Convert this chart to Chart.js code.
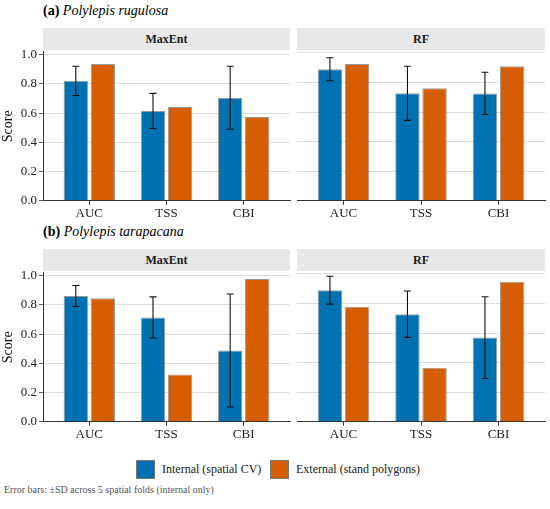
<!DOCTYPE html>
<html>
<head>
<meta charset="utf-8">
<script src="https://cdn.jsdelivr.net/npm/chart.js@4.4.1/dist/chart.umd.min.js"></script>
<style>
  body { margin: 0; background: #fff; font-family: "Times New Roman", "Liberation Serif", "DejaVu Serif", serif; }
  #fig { position: relative; width: 550px; height: 509px; overflow: hidden; }
  .panel { position: absolute; }
  .title { position: absolute; left: 43px; font-size: 14px; line-height: 16px; color: #000; }
  .title i { font-style: italic; }
  .strip { position: absolute; height: 22px; line-height: 22px; background: #e8e8e8; text-align: center;
           font-weight: bold; font-size: 12px; color: #1a1a1a; }
  .legend { position: absolute; top: 460px; left: 136px; height: 19px; font-size: 12px; color: #1a1a1a; }
  .key { position: absolute; top: 0; width: 17px; height: 17px; border: 1px solid #777; }
  .lab { position: absolute; top: 0; line-height: 19px; white-space: nowrap; }
  .caption { position: absolute; left: 4px; top: 484px; font-size: 10px; color: #555; white-space: nowrap; }
</style>
</head>
<body>
<div id="fig">
  <div class="title" style="top:3px"><b>(a)</b> <i>Polylepis rugulosa</i></div>
  <div class="strip" style="top:28px;left:43px;width:247px">MaxEnt</div>
  <div class="strip" style="top:28px;left:297px;width:248px">RF</div>
  <div class="panel" style="left:0;top:42px;width:292px;height:180px"><canvas id="a1"></canvas></div>
  <div class="panel" style="left:295px;top:42px;width:255px;height:180px"><canvas id="a2"></canvas></div>

  <div class="title" style="top:224px"><b>(b)</b> <i>Polylepis tarapacana</i></div>
  <div class="strip" style="top:249px;left:43px;width:247px">MaxEnt</div>
  <div class="strip" style="top:249px;left:297px;width:248px">RF</div>
  <div class="panel" style="left:0;top:263px;width:292px;height:180px"><canvas id="b1"></canvas></div>
  <div class="panel" style="left:295px;top:263px;width:255px;height:180px"><canvas id="b2"></canvas></div>

  <div class="legend">
    <div class="key" style="left:0;background:#0072B2"></div>
    <div class="lab" style="left:26px">Internal (spatial CV)</div>
    <div class="key" style="left:134px;background:#D55E00"></div>
    <div class="lab" style="left:160px">External (stand polygons)</div>
  </div>
  <div class="caption">Error bars: ±SD across 5 spatial folds (internal only)</div>
</div>
<script>
const metrics = ["AUC", "TSS", "CBI"];
const yTicks = [0, 0.2, 0.4, 0.6, 0.8, 1.0];

// (a) Polylepis rugulosa
const ruguMaxentInt = [0.821, 0.615, 0.705];
const ruguMaxentSd = [0.100, 0.120, 0.216];
const ruguMaxentExt = [0.937, 0.642, 0.574];
const ruguRfInt = [0.890, 0.727, 0.726];
const ruguRfSd = [0.078, 0.183, 0.143];
const ruguRfExt = [0.926, 0.761, 0.910];

// (b) Polylepis tarapacana
const taraMaxentInt = [0.861, 0.714, 0.488];
const taraMaxentSd = [0.072, 0.141, 0.387];
const taraMaxentExt = [0.845, 0.324, 0.978];
const taraRfInt = [0.890, 0.728, 0.570];
const taraRfSd = [0.094, 0.157, 0.276];
const taraRfExt = [0.778, 0.366, 0.948];

const serif = "'Times New Roman', 'Liberation Serif', 'DejaVu Serif', serif";
const axisCol = "#333";

const errorBars = {
  id: "errorBars",
  afterDatasetsDraw(chart) {
    const ds = chart.data.datasets[0];
    const meta = chart.getDatasetMeta(0);
    const y = chart.scales.y;
    const ctx = chart.ctx;
    ctx.save();
    ctx.strokeStyle = "#111";
    ctx.lineWidth = 1.1;
    meta.data.forEach((bar, i) => {
      const v = ds.data[i].y;
      const top = y.getPixelForValue(v + ds.sd[i]);
      const bot = y.getPixelForValue(v - ds.sd[i]);
      ctx.beginPath();
      ctx.moveTo(bar.x, top);
      ctx.lineTo(bar.x, bot);
      ctx.moveTo(bar.x - 3.5, top);
      ctx.lineTo(bar.x + 3.5, top);
      ctx.moveTo(bar.x - 3.5, bot);
      ctx.lineTo(bar.x + 3.5, bot);
      ctx.stroke();
    });
    ctx.restore();
  },
};

function points(vals) {
  return vals.map((v, i) => ({ x: i, y: v }));
}

function makePanel(id, intVals, sdVals, extVals, showY) {
  new Chart(id, {
    type: "bar",
    data: {
      datasets: [
        {
          label: "Internal (spatial CV)",
          data: points(intVals),
          sd: sdVals,
          backgroundColor: "#0072B2",
          borderColor: "rgba(70,70,70,0.55)",
          borderWidth: 1,
          categoryPercentage: 0.7,
          barPercentage: 0.9,
        },
        {
          label: "External (stand polygons)",
          data: points(extVals),
          backgroundColor: "#D55E00",
          borderColor: "rgba(70,70,70,0.55)",
          borderWidth: 1,
          categoryPercentage: 0.7,
          barPercentage: 0.9,
        },
      ],
    },
    options: {
      responsive: true,
      maintainAspectRatio: false,
      animation: false,
      layout: { padding: showY ? { top: 8, left: 0, right: 2, bottom: 0 } : { top: 8, left: 2, right: 5, bottom: 0 } },
      plugins: { legend: { display: false }, tooltip: { enabled: false } },
      scales: {
        x: {
          type: "linear",
          min: -0.6,
          max: 2.6,
          offset: false,
          afterBuildTicks: (s) => { s.ticks = metrics.map((m, i) => ({ value: i })); },
          afterFit: (s) => { s.height = 21.3; },
          ticks: {
            callback: (v) => metrics[v],
            autoSkip: false,
            maxRotation: 0,
            padding: 1,
            color: "#222",
            font: { family: serif, size: 13 },
          },
          grid: { offset: false, drawOnChartArea: false, tickLength: 4, tickColor: axisCol },
          border: { color: axisCol, width: 1 },
        },
        y: {
          min: 0,
          max: 1.02,
          afterBuildTicks: (s) => { s.ticks = yTicks.map((v) => ({ value: v })); },
          afterFit: (s) => { s.width = showY ? 43 : 0; },
          title: {
            display: showY,
            text: "Score",
            color: "#111",
            font: { family: serif, size: 14 },
            padding: { top: 0, bottom: 0 },
          },
          ticks: {
            display: showY,
            callback: (v) => v.toFixed(1),
            padding: 2,
            color: "#222",
            font: { family: serif, size: 13 },
          },
          grid: {
            color: "#d4d4d4",
            lineWidth: 0.8,
            borderDash: [1, 2],
            drawTicks: showY,
            tickLength: 4,
            tickColor: axisCol,
            tickBorderDash: [],
          },
          border: { display: showY, color: axisCol, width: 1 },
        },
      },
    },
    plugins: [errorBars],
  });
}

makePanel("a1", ruguMaxentInt, ruguMaxentSd, ruguMaxentExt, true);
makePanel("a2", ruguRfInt, ruguRfSd, ruguRfExt, false);
makePanel("b1", taraMaxentInt, taraMaxentSd, taraMaxentExt, true);
makePanel("b2", taraRfInt, taraRfSd, taraRfExt, false);
</script>
</body>
</html>
